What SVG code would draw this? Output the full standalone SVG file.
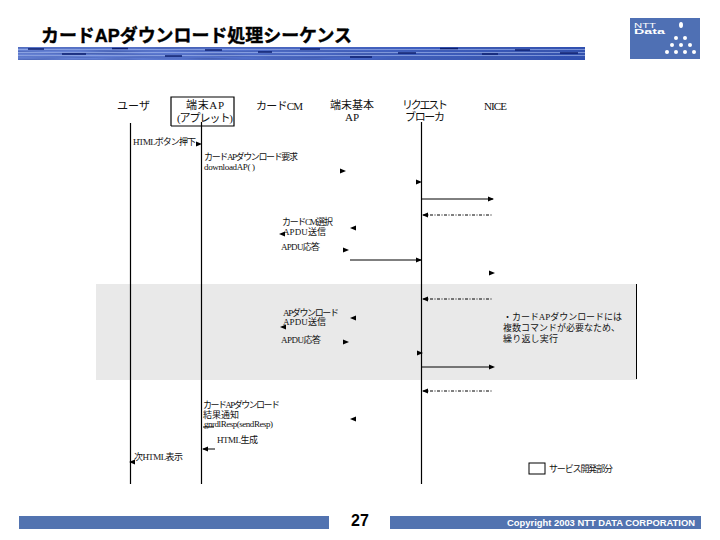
<svg xmlns="http://www.w3.org/2000/svg" width="720" height="540" viewBox="0 0 720 540">
<style>
text{font-family:"Liberation Serif","Noto Sans CJK JP",serif;fill:#111}
.t{font-size:9px}
.h{font-size:11px}
.life{stroke:#000;stroke-width:1.2;fill:none}
.msg{stroke:#000;stroke-width:1;fill:none}
.dash{stroke:#000;stroke-width:1;stroke-dasharray:3 1.5 1 1.5;fill:none}
.streak{stroke:#0c1f70;fill:none}
.light{stroke:#a9bdf0;stroke-width:.6;fill:none}
.bar{fill:#5273b0}
.dot{fill:#fff}
</style>
<defs>
<path id="hr" d="M-3-2.5L3 0L-3 2.5Z"/>
<path id="hl" d="M3-2.5L-3 0L3 2.5Z"/>
<linearGradient id="band" x1="0" y1="0" x2="1" y2="0">
<stop offset="0" stop-color="#6a86d8"/><stop offset=".35" stop-color="#5572cc"/><stop offset=".7" stop-color="#3f5fc0"/><stop offset="1" stop-color="#2f4fb0"/>
</linearGradient>
<filter id="grain" x="0" y="0" width="1" height="1">
<feTurbulence type="fractalNoise" baseFrequency="0.015 0.55" numOctaves="2" seed="4"/>
<feColorMatrix type="matrix" values="0 0 0 0 0.05  0 0 0 0 0.1  0 0 0 0 0.4  1.6 0 0 0 -0.55"/>
</filter>
</defs>
<g id="header">
<rect x="18" y="47" width="567" height="13" fill="url(#band)"/>
<rect x="18" y="47" width="567" height="13" filter="url(#grain)"/>
<path class="light" d="M18 49.5H585M18 52.5H585M18 55.5H585"/>
<path class="streak" stroke-width="1.3" d="M28 49H44M62 54H86M112 48.5H128M165 56H182M205 50H222M258 52H272M300 49H320M350 57H372M398 53H416M440 48.5H458M482 54H498M515 50H530M560 53H578"/>
<text x="41" y="42" font-size="18" font-weight="700" textLength="311" lengthAdjust="spacingAndGlyphs" stroke="#000" stroke-width=".4" style="font-family:'Liberation Sans','Noto Sans CJK JP',sans-serif;fill:#000">カードAPダウンロード処理シーケンス</text>
</g>
<g id="logo">
<rect x="630" y="18" width="70" height="41" fill="#4f70b4"/>
<text x="634" y="27.5" font-size="6.5" textLength="22" lengthAdjust="spacingAndGlyphs" style="font-family:'Liberation Sans',sans-serif;fill:#fff">NTT</text>
<text x="634" y="33.5" font-size="6.5" font-weight="700" textLength="31" lengthAdjust="spacingAndGlyphs" style="font-family:'Liberation Sans',sans-serif;fill:#fff">Data</text>
<ellipse class="dot" cx="681" cy="25" rx="2" ry="3"/>
<circle class="dot" cx="676" cy="38" r="2"/><circle class="dot" cx="685" cy="38" r="2"/>
<circle class="dot" cx="672" cy="45" r="2"/><circle class="dot" cx="681" cy="45" r="2"/><circle class="dot" cx="690" cy="45" r="2"/>
<circle class="dot" cx="667" cy="52" r="2"/><circle class="dot" cx="676" cy="52" r="2"/><circle class="dot" cx="685" cy="52" r="2"/><circle class="dot" cx="694" cy="52" r="2"/>
</g>
<rect id="loop-region" x="96" y="284" width="541" height="96" fill="#e9e9e9"/>
<path d="M636.5 284V379" stroke="#000" fill="none"/>
<g id="node-user"><text class="h" x="117" y="110" textLength="33">ユーザ</text></g>
<g id="node-terminal-ap">
<path d="M171 126V97H234V126H171" fill="#fff" stroke="#000" stroke-width="1.2"/>
<text class="h" x="186" y="109" textLength="38">端末AP</text>
<text class="h" x="177" y="122" textLength="56">(アプレット)</text>
</g>
<g id="node-card-cm"><text class="h" x="256" y="110" textLength="47">カードCM</text></g>
<g id="node-base-ap">
<text class="h" x="330" y="109" textLength="44">端末基本</text>
<text class="h" x="352" y="121" text-anchor="middle">AP</text>
</g>
<g id="node-broker">
<text class="h" x="402" y="109" textLength="46">リクエスト</text>
<text class="h" x="405" y="121" textLength="40">ブローカ</text>
</g>
<g id="node-nice"><text class="h" x="484" y="110" textLength="23">NICE</text></g>
<g id="connectors">
<path class="life" d="M130.5 123V484M201.5 122V484M421.5 122V484"/>
<path class="msg" d="M421 199H493M350 260H421M421 367H493M203 427H214M203 449H215"/>
<path class="dash" d="M423 215H493M423 299H493M423 391H493"/>
<use href="#hr" x="199" y="144"/><use href="#hr" x="343" y="171"/><use href="#hr" x="419" y="182"/><use href="#hr" x="491" y="199"/>
<use href="#hl" x="425" y="215"/><use href="#hl" x="353" y="228"/><use href="#hl" x="282" y="234"/><use href="#hr" x="346" y="250"/>
<use href="#hr" x="419" y="260"/><use href="#hr" x="492" y="273"/>
<use href="#hl" x="425" y="299"/><use href="#hl" x="353" y="318"/><use href="#hl" x="283" y="327"/><use href="#hr" x="346" y="342"/>
<use href="#hr" x="420" y="353"/><use href="#hr" x="492" y="367"/>
<use href="#hl" x="425" y="391"/><use href="#hl" x="353" y="419"/><use href="#hl" x="205" y="449"/><use href="#hl" x="132" y="462"/>
</g>
<g id="labels">
<text class="t" x="133" y="145" textLength="63">HTMLボタン押下</text>
<text class="t" x="204" y="160" textLength="94">カードAPダウンロード要求</text>
<text class="t" x="204" y="170" textLength="51">downloadAP( )</text>
<text class="t" x="282" y="225" textLength="51">カードCM選択</text>
<text class="t" x="283" y="235" textLength="43">APDU送信</text>
<text class="t" x="281" y="250" textLength="39">APDU応答</text>
<text class="t" x="283" y="316" textLength="56">APダウンロード</text>
<text class="t" x="283" y="325" textLength="43">APDU送信</text>
<text class="t" x="281" y="343" textLength="40">APDU応答</text>
<text class="t" x="503" y="320" textLength="119">・カードAPダウンロードには</text>
<text class="t" x="503" y="331" textLength="117">複数コマンドが必要なため、</text>
<text class="t" x="503" y="342" textLength="55">繰り返し実行</text>
<text class="t" x="203" y="408" textLength="77">カードAPダウンロード</text>
<text class="t" x="203" y="418" textLength="36">結果通知</text>
<text class="t" x="204" y="427" textLength="69">gnrdlResp(sendResp)</text>
<text class="t" x="217" y="443" textLength="41">HTML生成</text>
<text class="t" x="134" y="460" textLength="49">次HTML表示</text>
</g>
<g id="legend">
<rect x="529" y="463" width="16" height="11" fill="#fff" stroke="#000"/>
<text class="t" x="549" y="472" textLength="64">サービス開発部分</text>
</g>
<g id="footer">
<rect class="bar" x="19" y="516" width="310" height="13"/>
<rect class="bar" x="390" y="516" width="311" height="13"/>
<text x="360" y="526" font-size="16" font-weight="700" text-anchor="middle" style="font-family:'Liberation Sans',sans-serif;fill:#000">27</text>
<text x="507" y="526" font-size="9" font-weight="700" textLength="188" lengthAdjust="spacingAndGlyphs" style="font-family:'Liberation Sans',sans-serif;fill:#fff">Copyright 2003 NTT DATA CORPORATION</text>
</g>
</svg>
